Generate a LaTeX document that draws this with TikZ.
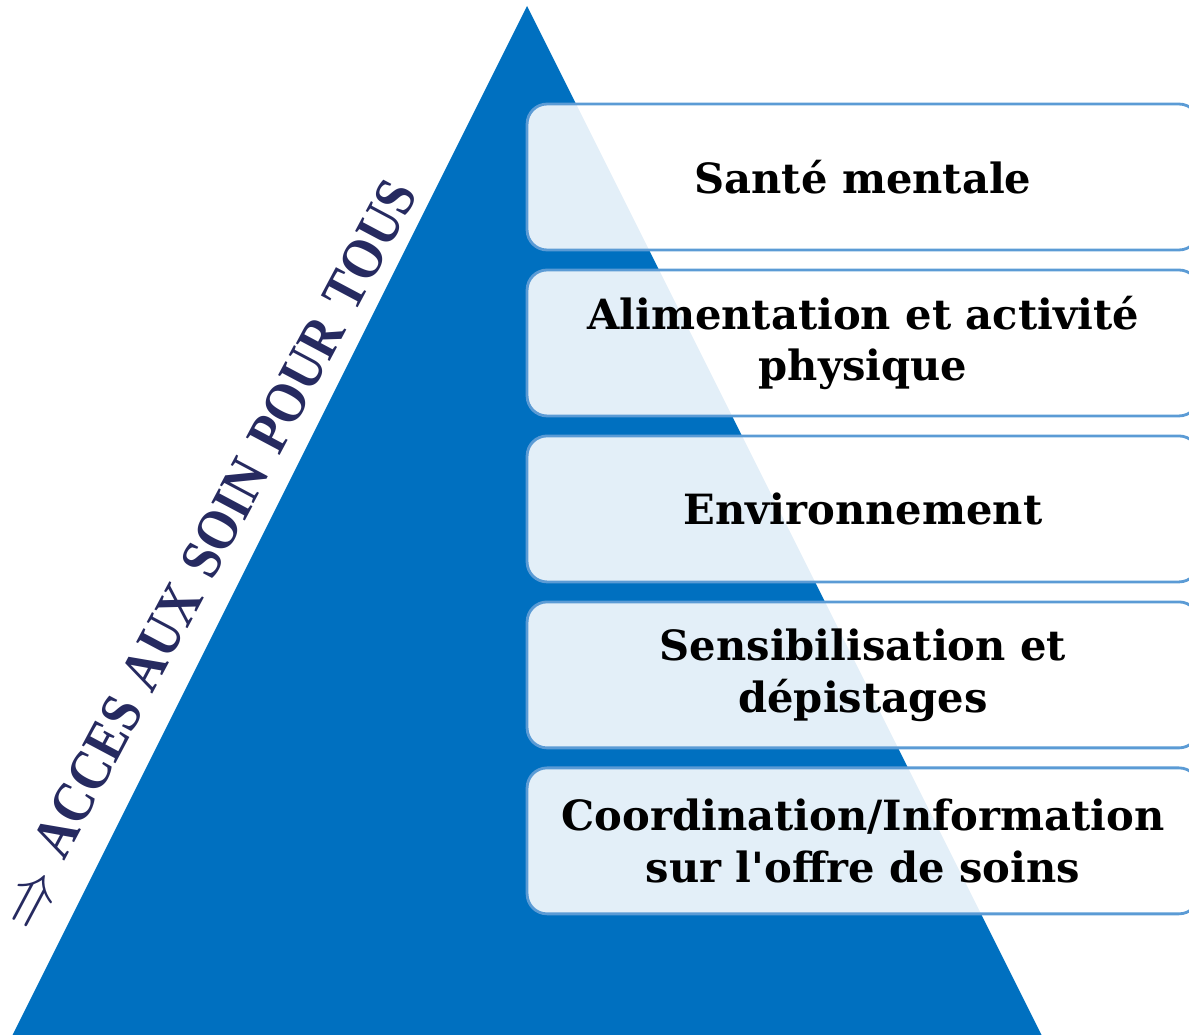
\documentclass[tikz,border=0pt]{standalone}
\usepackage{fontspec}
\setmainfont{DejaVu Serif}[Ligatures=TeXOff]
\newfontfamily\titrefont{Liberation Serif}
\newcommand\titrefmt{\titrefont\fontsize{33}{40}\selectfont\bfseries\spaceskip 0.36em\relax}
\usetikzlibrary{positioning}
\definecolor{bleupyr}{RGB}{0,112,192}
\definecolor{bordbleu}{RGB}{91,155,213}
\definecolor{marine}{RGB}{38,42,96}

\begin{document}
\begin{tikzpicture}[x=0.02cm,y=-0.02cm,node distance=0.4cm,
  niveau/.style={draw=bordbleu,line width=1.6pt,rounded corners=0.4cm,fill=white,fill opacity=0.89,text opacity=1,
    minimum width=13.44cm,minimum height=2.92cm,inner sep=0pt,outer sep=0pt,align=center,
    font=\fontsize{23.7}{29.5}\selectfont\bfseries}]
\clip (0,0) rectangle (1189,1034);
% pyramide
\fill[bleupyr] (527,6) -- (1044,1040) -- (10,1040) -- cycle;
% niveaux
\node[niveau] (sante) at (863,177) {Santé mentale};
\node[niveau,below=of sante] (alim) {Alimentation et activité\\physique};
\node[niveau,below=of alim] (env) {Environnement};
\node[niveau,below=of env] (sensib) {Sensibilisation et\\dépistages};
\node[niveau,below=of sensib] (coord) {Coordination/Information\\sur l'offre de soins};
% titre le long du bord
\node[font=\titrefmt,text=marine,rotate=62,xscale=0.87] (acces) at (209,555)
  {\raisebox{-0.12em}{\scalebox{1.6}{$\Rightarrow$}}\ ACCES AUX SOIN POUR TOUS};
\end{tikzpicture}
\end{document}
